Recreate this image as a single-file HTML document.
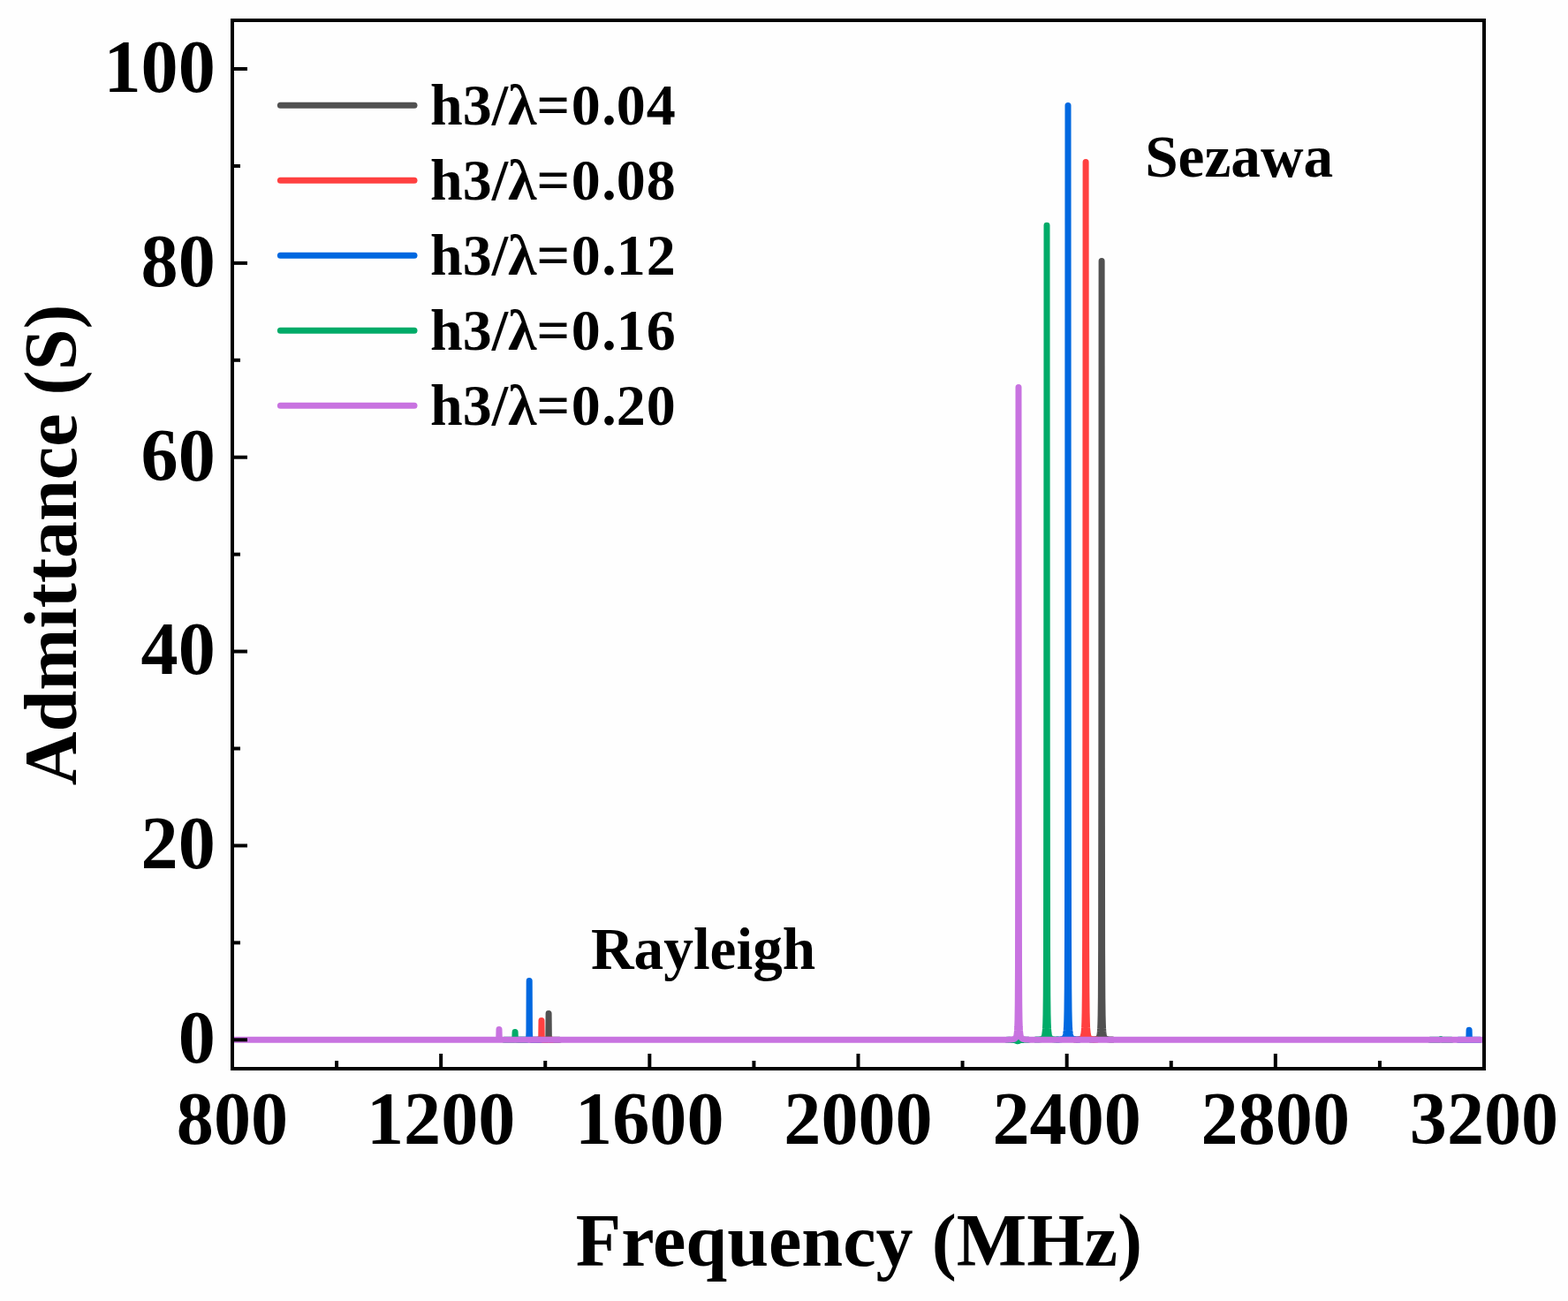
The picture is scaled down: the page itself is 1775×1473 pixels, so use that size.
<!DOCTYPE html>
<html lang="en"><head><meta charset="utf-8"><title>Admittance vs Frequency</title>
<style>
html,body{margin:0;padding:0;background:#fefefe;}
body{width:1775px;height:1473px;overflow:hidden;}
svg{display:block;}
text{font-family:"Liberation Serif","Times New Roman",serif;font-weight:bold;fill:#000;}
.t84{font-size:84.2px;}
.t66{font-size:66px;}
.t67{font-size:67.3px;}
</style></head><body>
<svg width="1775" height="1473" viewBox="0 0 1775 1473">
<rect x="0" y="0" width="1775" height="1473" fill="#fefefe"/>
<defs><clipPath id="pc"><rect x="263" y="23" width="1417" height="1187"/></clipPath></defs>

<g clip-path="url(#pc)" fill="none" stroke-width="7" stroke-linejoin="round" stroke-linecap="round">
<path d="M609.10,1177.30 L609.35,1177.30 L609.60,1177.30 L609.85,1177.30 L610.10,1177.30 L610.35,1177.30 L610.60,1177.30 L610.85,1177.30 L611.10,1177.30 L611.35,1177.30 L611.60,1177.30 L611.85,1177.30 L612.10,1177.30 L612.35,1177.30 L612.60,1177.30 L612.85,1177.30 L613.10,1177.30 L613.35,1177.29 L613.60,1177.29 L613.85,1177.29 L614.10,1177.29 L614.35,1177.29 L614.60,1177.29 L614.85,1177.29 L615.10,1177.29 L615.35,1177.29 L615.60,1177.29 L615.85,1177.29 L616.10,1177.29 L616.35,1177.29 L616.60,1177.29 L616.85,1177.28 L617.10,1177.28 L617.35,1177.28 L617.60,1177.28 L617.85,1177.27 L618.10,1177.27 L618.35,1177.26 L618.60,1177.25 L618.85,1177.24 L619.10,1177.23 L619.35,1177.20 L619.60,1177.17 L619.85,1177.11 L620.10,1177.00 L620.35,1176.78 L620.60,1176.15 L620.85,1173.19 L621.10,1147.50 L621.35,1173.19 L621.60,1176.15 L621.85,1176.78 L622.10,1177.00 L622.35,1177.11 L622.60,1177.17 L622.85,1177.20 L623.10,1177.23 L623.35,1177.24 L623.60,1177.25 L623.85,1177.26 L624.10,1177.27 L624.35,1177.27 L624.60,1177.28 L624.85,1177.28 L625.10,1177.28 L625.35,1177.28 L625.60,1177.29 L625.85,1177.29 L626.10,1177.29 L626.35,1177.29 L626.60,1177.29 L626.85,1177.29 L627.10,1177.29 L627.35,1177.29 L627.60,1177.29 L627.85,1177.29 L628.10,1177.29 L628.35,1177.29 L628.60,1177.29 L628.85,1177.29 L629.10,1177.30 L629.35,1177.30 L629.60,1177.30 L629.85,1177.30 L630.10,1177.30 L630.35,1177.30 L630.60,1177.30 L630.85,1177.30 L631.10,1177.30 L631.35,1177.30 L631.60,1177.30 L631.85,1177.30 L632.10,1177.30 L632.35,1177.30 L632.60,1177.30 L632.85,1177.30 L633.10,1177.30M1235.10,1177.10 L1235.35,1177.09 L1235.60,1177.08 L1235.85,1177.07 L1236.10,1177.06 L1236.35,1177.05 L1236.60,1177.04 L1236.85,1177.03 L1237.10,1177.01 L1237.35,1177.00 L1237.60,1176.98 L1237.85,1176.97 L1238.10,1176.95 L1238.35,1176.93 L1238.60,1176.90 L1238.85,1176.88 L1239.10,1176.85 L1239.35,1176.82 L1239.60,1176.79 L1239.85,1176.76 L1240.10,1176.72 L1240.35,1176.67 L1240.60,1176.62 L1240.85,1176.57 L1241.10,1176.51 L1241.35,1176.44 L1241.60,1176.36 L1241.85,1176.26 L1242.10,1176.16 L1242.35,1176.04 L1242.60,1175.89 L1242.85,1175.72 L1243.10,1175.52 L1243.35,1175.27 L1243.60,1174.97 L1243.85,1174.60 L1244.10,1174.14 L1244.35,1173.54 L1244.60,1172.75 L1244.85,1171.69 L1245.10,1170.22 L1245.35,1168.07 L1245.60,1164.78 L1245.85,1159.39 L1246.10,1149.63 L1246.35,1129.28 L1246.60,1076.14 L1246.85,876.28 L1247.10,295.60 L1247.35,876.28 L1247.60,1076.14 L1247.85,1129.28 L1248.10,1149.63 L1248.35,1159.39 L1248.60,1164.78 L1248.85,1168.07 L1249.10,1170.22 L1249.35,1171.69 L1249.60,1172.75 L1249.85,1173.54 L1250.10,1174.14 L1250.35,1174.60 L1250.60,1174.97 L1250.85,1175.27 L1251.10,1175.52 L1251.35,1175.72 L1251.60,1175.89 L1251.85,1176.04 L1252.10,1176.16 L1252.35,1176.26 L1252.60,1176.36 L1252.85,1176.44 L1253.10,1176.51 L1253.35,1176.57 L1253.60,1176.62 L1253.85,1176.67 L1254.10,1176.72 L1254.35,1176.76 L1254.60,1176.79 L1254.85,1176.82 L1255.10,1176.85 L1255.35,1176.88 L1255.60,1176.90 L1255.85,1176.93 L1256.10,1176.95 L1256.35,1176.97 L1256.60,1176.98 L1256.85,1177.00 L1257.10,1177.01 L1257.35,1177.03 L1257.60,1177.04 L1257.85,1177.05 L1258.10,1177.06 L1258.35,1177.07 L1258.60,1177.08 L1258.85,1177.09 L1259.10,1177.10" stroke="#515151"/>
<path d="M601.00,1177.30 L601.25,1177.30 L601.50,1177.30 L601.75,1177.30 L602.00,1177.30 L602.25,1177.30 L602.50,1177.30 L602.75,1177.30 L603.00,1177.30 L603.25,1177.30 L603.50,1177.30 L603.75,1177.30 L604.00,1177.30 L604.25,1177.30 L604.50,1177.30 L604.75,1177.30 L605.00,1177.29 L605.25,1177.29 L605.50,1177.29 L605.75,1177.29 L606.00,1177.29 L606.25,1177.29 L606.50,1177.29 L606.75,1177.29 L607.00,1177.29 L607.25,1177.29 L607.50,1177.29 L607.75,1177.29 L608.00,1177.29 L608.25,1177.29 L608.50,1177.28 L608.75,1177.28 L609.00,1177.28 L609.25,1177.28 L609.50,1177.27 L609.75,1177.27 L610.00,1177.26 L610.25,1177.26 L610.50,1177.25 L610.75,1177.24 L611.00,1177.22 L611.25,1177.20 L611.50,1177.16 L611.75,1177.10 L612.00,1176.99 L612.25,1176.75 L612.50,1176.11 L612.75,1173.20 L613.00,1155.40 L613.25,1173.20 L613.50,1176.11 L613.75,1176.75 L614.00,1176.99 L614.25,1177.10 L614.50,1177.16 L614.75,1177.20 L615.00,1177.22 L615.25,1177.24 L615.50,1177.25 L615.75,1177.26 L616.00,1177.26 L616.25,1177.27 L616.50,1177.27 L616.75,1177.28 L617.00,1177.28 L617.25,1177.28 L617.50,1177.28 L617.75,1177.29 L618.00,1177.29 L618.25,1177.29 L618.50,1177.29 L618.75,1177.29 L619.00,1177.29 L619.25,1177.29 L619.50,1177.29 L619.75,1177.29 L620.00,1177.29 L620.25,1177.29 L620.50,1177.29 L620.75,1177.29 L621.00,1177.29 L621.25,1177.30 L621.50,1177.30 L621.75,1177.30 L622.00,1177.30 L622.25,1177.30 L622.50,1177.30 L622.75,1177.30 L623.00,1177.30 L623.25,1177.30 L623.50,1177.30 L623.75,1177.30 L624.00,1177.30 L624.25,1177.30 L624.50,1177.30 L624.75,1177.30 L625.00,1177.30M1217.10,1177.08 L1217.35,1177.07 L1217.60,1177.06 L1217.85,1177.05 L1218.10,1177.03 L1218.35,1177.02 L1218.60,1177.01 L1218.85,1176.99 L1219.10,1176.98 L1219.35,1176.96 L1219.60,1176.94 L1219.85,1176.92 L1220.10,1176.90 L1220.35,1176.88 L1220.60,1176.85 L1220.85,1176.83 L1221.10,1176.80 L1221.35,1176.76 L1221.60,1176.73 L1221.85,1176.69 L1222.10,1176.64 L1222.35,1176.59 L1222.60,1176.54 L1222.85,1176.48 L1223.10,1176.41 L1223.35,1176.33 L1223.60,1176.24 L1223.85,1176.13 L1224.10,1176.01 L1224.35,1175.88 L1224.60,1175.71 L1224.85,1175.52 L1225.10,1175.29 L1225.35,1175.02 L1225.60,1174.68 L1225.85,1174.26 L1226.10,1173.74 L1226.35,1173.06 L1226.60,1172.18 L1226.85,1170.98 L1227.10,1169.32 L1227.35,1166.90 L1227.60,1163.19 L1227.85,1157.11 L1228.10,1146.11 L1228.35,1123.18 L1228.60,1063.29 L1228.85,838.04 L1229.10,183.60 L1229.35,838.04 L1229.60,1063.29 L1229.85,1123.18 L1230.10,1146.11 L1230.35,1157.11 L1230.60,1163.19 L1230.85,1166.90 L1231.10,1169.32 L1231.35,1170.98 L1231.60,1172.18 L1231.85,1173.06 L1232.10,1173.74 L1232.35,1174.26 L1232.60,1174.68 L1232.85,1175.02 L1233.10,1175.29 L1233.35,1175.52 L1233.60,1175.71 L1233.85,1175.88 L1234.10,1176.01 L1234.35,1176.13 L1234.60,1176.24 L1234.85,1176.33 L1235.10,1176.41 L1235.35,1176.48 L1235.60,1176.54 L1235.85,1176.59 L1236.10,1176.64 L1236.35,1176.69 L1236.60,1176.73 L1236.85,1176.76 L1237.10,1176.80 L1237.35,1176.83 L1237.60,1176.85 L1237.85,1176.88 L1238.10,1176.90 L1238.35,1176.92 L1238.60,1176.94 L1238.85,1176.96 L1239.10,1176.98 L1239.35,1176.99 L1239.60,1177.01 L1239.85,1177.02 L1240.10,1177.03 L1240.35,1177.05 L1240.60,1177.06 L1240.85,1177.07 L1241.10,1177.08" stroke="#FF4040"/>
<path d="M587.20,1177.30 L587.45,1177.30 L587.70,1177.29 L587.95,1177.29 L588.20,1177.29 L588.45,1177.29 L588.70,1177.29 L588.95,1177.29 L589.20,1177.29 L589.45,1177.29 L589.70,1177.29 L589.95,1177.29 L590.20,1177.29 L590.45,1177.29 L590.70,1177.29 L590.95,1177.29 L591.20,1177.29 L591.45,1177.29 L591.70,1177.29 L591.95,1177.29 L592.20,1177.29 L592.45,1177.29 L592.70,1177.28 L592.95,1177.28 L593.20,1177.28 L593.45,1177.28 L593.70,1177.28 L593.95,1177.28 L594.20,1177.27 L594.45,1177.27 L594.70,1177.27 L594.95,1177.26 L595.20,1177.26 L595.45,1177.25 L595.70,1177.25 L595.95,1177.24 L596.20,1177.23 L596.45,1177.21 L596.70,1177.19 L596.95,1177.17 L597.20,1177.13 L597.45,1177.08 L597.70,1177.00 L597.95,1176.88 L598.20,1176.64 L598.45,1176.13 L598.70,1174.73 L598.95,1168.09 L599.20,1110.50 L599.45,1168.09 L599.70,1174.73 L599.95,1176.13 L600.20,1176.64 L600.45,1176.88 L600.70,1177.00 L600.95,1177.08 L601.20,1177.13 L601.45,1177.17 L601.70,1177.19 L601.95,1177.21 L602.20,1177.23 L602.45,1177.24 L602.70,1177.25 L602.95,1177.25 L603.20,1177.26 L603.45,1177.26 L603.70,1177.27 L603.95,1177.27 L604.20,1177.27 L604.45,1177.28 L604.70,1177.28 L604.95,1177.28 L605.20,1177.28 L605.45,1177.28 L605.70,1177.28 L605.95,1177.29 L606.20,1177.29 L606.45,1177.29 L606.70,1177.29 L606.95,1177.29 L607.20,1177.29 L607.45,1177.29 L607.70,1177.29 L607.95,1177.29 L608.20,1177.29 L608.45,1177.29 L608.70,1177.29 L608.95,1177.29 L609.20,1177.29 L609.45,1177.29 L609.70,1177.29 L609.95,1177.29 L610.20,1177.29 L610.45,1177.29 L610.70,1177.29 L610.95,1177.30 L611.20,1177.30M1197.00,1177.06 L1197.25,1177.05 L1197.50,1177.04 L1197.75,1177.03 L1198.00,1177.02 L1198.25,1177.00 L1198.50,1176.99 L1198.75,1176.97 L1199.00,1176.96 L1199.25,1176.94 L1199.50,1176.92 L1199.75,1176.90 L1200.00,1176.88 L1200.25,1176.85 L1200.50,1176.83 L1200.75,1176.80 L1201.00,1176.76 L1201.25,1176.73 L1201.50,1176.69 L1201.75,1176.65 L1202.00,1176.60 L1202.25,1176.55 L1202.50,1176.49 L1202.75,1176.42 L1203.00,1176.35 L1203.25,1176.26 L1203.50,1176.17 L1203.75,1176.06 L1204.00,1175.93 L1204.25,1175.78 L1204.50,1175.61 L1204.75,1175.41 L1205.00,1175.16 L1205.25,1174.87 L1205.50,1174.51 L1205.75,1174.06 L1206.00,1173.51 L1206.25,1172.79 L1206.50,1171.84 L1206.75,1170.57 L1207.00,1168.80 L1207.25,1166.23 L1207.50,1162.28 L1207.75,1155.81 L1208.00,1144.10 L1208.25,1119.68 L1208.50,1055.93 L1208.75,816.12 L1209.00,119.40 L1209.25,816.12 L1209.50,1055.93 L1209.75,1119.68 L1210.00,1144.10 L1210.25,1155.81 L1210.50,1162.28 L1210.75,1166.23 L1211.00,1168.80 L1211.25,1170.57 L1211.50,1171.84 L1211.75,1172.79 L1212.00,1173.51 L1212.25,1174.06 L1212.50,1174.51 L1212.75,1174.87 L1213.00,1175.16 L1213.25,1175.41 L1213.50,1175.61 L1213.75,1175.78 L1214.00,1175.93 L1214.25,1176.06 L1214.50,1176.17 L1214.75,1176.26 L1215.00,1176.35 L1215.25,1176.42 L1215.50,1176.49 L1215.75,1176.55 L1216.00,1176.60 L1216.25,1176.65 L1216.50,1176.69 L1216.75,1176.73 L1217.00,1176.76 L1217.25,1176.80 L1217.50,1176.83 L1217.75,1176.85 L1218.00,1176.88 L1218.25,1176.90 L1218.50,1176.92 L1218.75,1176.94 L1219.00,1176.96 L1219.25,1176.97 L1219.50,1176.99 L1219.75,1177.00 L1220.00,1177.02 L1220.25,1177.03 L1220.50,1177.04 L1220.75,1177.05 L1221.00,1177.06M1651.10,1177.30 L1651.35,1177.30 L1651.60,1177.30 L1651.85,1177.30 L1652.10,1177.30 L1652.35,1177.30 L1652.60,1177.30 L1652.85,1177.30 L1653.10,1177.30 L1653.35,1177.30 L1653.60,1177.30 L1653.85,1177.30 L1654.10,1177.30 L1654.35,1177.30 L1654.60,1177.30 L1654.85,1177.30 L1655.10,1177.30 L1655.35,1177.30 L1655.60,1177.30 L1655.85,1177.30 L1656.10,1177.30 L1656.35,1177.30 L1656.60,1177.30 L1656.85,1177.30 L1657.10,1177.30 L1657.35,1177.30 L1657.60,1177.30 L1657.85,1177.30 L1658.10,1177.30 L1658.35,1177.29 L1658.60,1177.29 L1658.85,1177.29 L1659.10,1177.29 L1659.35,1177.29 L1659.60,1177.29 L1659.85,1177.29 L1660.10,1177.29 L1660.35,1177.29 L1660.60,1177.28 L1660.85,1177.28 L1661.10,1177.27 L1661.35,1177.26 L1661.60,1177.25 L1661.85,1177.23 L1662.10,1177.19 L1662.35,1177.11 L1662.60,1176.88 L1662.85,1175.78 L1663.10,1166.30 L1663.35,1175.78 L1663.60,1176.88 L1663.85,1177.11 L1664.10,1177.19 L1664.35,1177.23 L1664.60,1177.25 L1664.85,1177.26 L1665.10,1177.27 L1665.35,1177.28 L1665.60,1177.28 L1665.85,1177.29 L1666.10,1177.29 L1666.35,1177.29 L1666.60,1177.29 L1666.85,1177.29 L1667.10,1177.29 L1667.35,1177.29 L1667.60,1177.29 L1667.85,1177.29 L1668.10,1177.30 L1668.35,1177.30 L1668.60,1177.30 L1668.85,1177.30 L1669.10,1177.30 L1669.35,1177.30 L1669.60,1177.30 L1669.85,1177.30 L1670.10,1177.30 L1670.35,1177.30 L1670.60,1177.30 L1670.85,1177.30 L1671.10,1177.30 L1671.35,1177.30 L1671.60,1177.30 L1671.85,1177.30 L1672.10,1177.30 L1672.35,1177.30 L1672.60,1177.30 L1672.85,1177.30 L1673.10,1177.30 L1673.35,1177.30 L1673.60,1177.30 L1673.85,1177.30 L1674.10,1177.30 L1674.35,1177.30 L1674.60,1177.30 L1674.85,1177.30 L1675.10,1177.30" stroke="#0068E0"/>
<path d="M571.10,1177.30 L571.35,1177.30 L571.60,1177.30 L571.85,1177.30 L572.10,1177.30 L572.35,1177.30 L572.60,1177.30 L572.85,1177.30 L573.10,1177.30 L573.35,1177.30 L573.60,1177.30 L573.85,1177.30 L574.10,1177.30 L574.35,1177.30 L574.60,1177.30 L574.85,1177.30 L575.10,1177.30 L575.35,1177.30 L575.60,1177.30 L575.85,1177.30 L576.10,1177.30 L576.35,1177.30 L576.60,1177.30 L576.85,1177.30 L577.10,1177.30 L577.35,1177.30 L577.60,1177.30 L577.85,1177.30 L578.10,1177.30 L578.35,1177.30 L578.60,1177.30 L578.85,1177.30 L579.10,1177.29 L579.35,1177.29 L579.60,1177.29 L579.85,1177.29 L580.10,1177.29 L580.35,1177.29 L580.60,1177.29 L580.85,1177.28 L581.10,1177.28 L581.35,1177.27 L581.60,1177.26 L581.85,1177.24 L582.10,1177.21 L582.35,1177.15 L582.60,1176.96 L582.85,1176.09 L583.10,1168.50 L583.35,1176.09 L583.60,1176.96 L583.85,1177.15 L584.10,1177.21 L584.35,1177.24 L584.60,1177.26 L584.85,1177.27 L585.10,1177.28 L585.35,1177.28 L585.60,1177.29 L585.85,1177.29 L586.10,1177.29 L586.35,1177.29 L586.60,1177.29 L586.85,1177.29 L587.10,1177.29 L587.35,1177.30 L587.60,1177.30 L587.85,1177.30 L588.10,1177.30 L588.35,1177.30 L588.60,1177.30 L588.85,1177.30 L589.10,1177.30 L589.35,1177.30 L589.60,1177.30 L589.85,1177.30 L590.10,1177.30 L590.35,1177.30 L590.60,1177.30 L590.85,1177.30 L591.10,1177.30 L591.35,1177.30 L591.60,1177.30 L591.85,1177.30 L592.10,1177.30 L592.35,1177.30 L592.60,1177.30 L592.85,1177.30 L593.10,1177.30 L593.35,1177.30 L593.60,1177.30 L593.85,1177.30 L594.10,1177.30 L594.35,1177.30 L594.60,1177.30 L594.85,1177.30 L595.10,1177.30M1140.00,1177.33 L1140.25,1177.33 L1140.50,1177.33 L1140.75,1177.33 L1141.00,1177.33 L1141.25,1177.33 L1141.50,1177.34 L1141.75,1177.34 L1142.00,1177.34 L1142.25,1177.34 L1142.50,1177.35 L1142.75,1177.35 L1143.00,1177.35 L1143.25,1177.36 L1143.50,1177.36 L1143.75,1177.37 L1144.00,1177.37 L1144.25,1177.38 L1144.50,1177.38 L1144.75,1177.39 L1145.00,1177.39 L1145.25,1177.40 L1145.50,1177.41 L1145.75,1177.42 L1146.00,1177.43 L1146.25,1177.44 L1146.50,1177.46 L1146.75,1177.47 L1147.00,1177.49 L1147.25,1177.50 L1147.50,1177.53 L1147.75,1177.55 L1148.00,1177.58 L1148.25,1177.61 L1148.50,1177.65 L1148.75,1177.69 L1149.00,1177.74 L1149.25,1177.80 L1149.50,1177.86 L1149.75,1177.94 L1150.00,1178.03 L1150.25,1178.12 L1150.50,1178.23 L1150.75,1178.35 L1151.00,1178.47 L1151.25,1178.59 L1151.50,1178.69 L1151.75,1178.75 L1152.00,1178.77 L1152.25,1178.75 L1152.50,1178.68 L1152.75,1178.59 L1153.00,1178.47 L1153.25,1178.35 L1153.50,1178.23 L1153.75,1178.12 L1154.00,1178.02 L1154.25,1177.93 L1154.50,1177.85 L1154.75,1177.79 L1155.00,1177.73 L1155.25,1177.68 L1155.50,1177.63 L1155.75,1177.60 L1156.00,1177.56 L1156.25,1177.54 L1156.50,1177.51 L1156.75,1177.49 L1157.00,1177.47 L1157.25,1177.45 L1157.50,1177.44 L1157.75,1177.42 L1158.00,1177.41 L1158.25,1177.40 L1158.50,1177.39 L1158.75,1177.38 L1159.00,1177.37 L1159.25,1177.36 L1159.50,1177.35 L1159.75,1177.35 L1160.00,1177.34 L1160.25,1177.33 L1160.50,1177.33 L1160.75,1177.32 L1161.00,1177.32 L1161.25,1177.31 L1161.50,1177.31 L1161.75,1177.31 L1162.00,1177.30 L1162.25,1177.30 L1162.50,1177.29 L1162.75,1177.29 L1163.00,1177.29 L1163.25,1177.28 L1163.50,1177.28 L1163.75,1177.28 L1164.00,1177.27M1173.00,1177.11 L1173.25,1177.10 L1173.50,1177.09 L1173.75,1177.08 L1174.00,1177.07 L1174.25,1177.05 L1174.50,1177.04 L1174.75,1177.03 L1175.00,1177.01 L1175.25,1177.00 L1175.50,1176.98 L1175.75,1176.96 L1176.00,1176.94 L1176.25,1176.92 L1176.50,1176.90 L1176.75,1176.87 L1177.00,1176.84 L1177.25,1176.81 L1177.50,1176.78 L1177.75,1176.74 L1178.00,1176.70 L1178.25,1176.65 L1178.50,1176.60 L1178.75,1176.54 L1179.00,1176.48 L1179.25,1176.41 L1179.50,1176.32 L1179.75,1176.23 L1180.00,1176.11 L1180.25,1175.99 L1180.50,1175.83 L1180.75,1175.66 L1181.00,1175.44 L1181.25,1175.19 L1181.50,1174.87 L1181.75,1174.49 L1182.00,1174.00 L1182.25,1173.37 L1182.50,1172.55 L1182.75,1171.44 L1183.00,1169.90 L1183.25,1167.65 L1183.50,1164.22 L1183.75,1158.58 L1184.00,1148.37 L1184.25,1127.09 L1184.50,1071.52 L1184.75,862.52 L1185.00,255.31 L1185.25,862.52 L1185.50,1071.52 L1185.75,1127.09 L1186.00,1148.37 L1186.25,1158.57 L1186.50,1164.22 L1186.75,1167.65 L1187.00,1169.90 L1187.25,1171.44 L1187.50,1172.55 L1187.75,1173.37 L1188.00,1174.00 L1188.25,1174.49 L1188.50,1174.87 L1188.75,1175.19 L1189.00,1175.44 L1189.25,1175.65 L1189.50,1175.83 L1189.75,1175.98 L1190.00,1176.11 L1190.25,1176.22 L1190.50,1176.32 L1190.75,1176.40 L1191.00,1176.47 L1191.25,1176.54 L1191.50,1176.60 L1191.75,1176.65 L1192.00,1176.69 L1192.25,1176.74 L1192.50,1176.77 L1192.75,1176.81 L1193.00,1176.84 L1193.25,1176.86 L1193.50,1176.89 L1193.75,1176.91 L1194.00,1176.93 L1194.25,1176.95 L1194.50,1176.97 L1194.75,1176.99 L1195.00,1177.00 L1195.25,1177.02 L1195.50,1177.03 L1195.75,1177.04 L1196.00,1177.06 L1196.25,1177.07 L1196.50,1177.08 L1196.75,1177.09 L1197.00,1177.10M1619.00,1177.30 L1619.25,1177.30 L1619.50,1177.30 L1619.75,1177.30 L1620.00,1177.30 L1620.25,1177.30 L1620.50,1177.30 L1620.75,1177.30 L1621.00,1177.30 L1621.25,1177.30 L1621.50,1177.30 L1621.75,1177.30 L1622.00,1177.30 L1622.25,1177.30 L1622.50,1177.30 L1622.75,1177.30 L1623.00,1177.30 L1623.25,1177.30 L1623.50,1177.29 L1623.75,1177.29 L1624.00,1177.29 L1624.25,1177.29 L1624.50,1177.29 L1624.75,1177.29 L1625.00,1177.29 L1625.25,1177.29 L1625.50,1177.29 L1625.75,1177.29 L1626.00,1177.29 L1626.25,1177.29 L1626.50,1177.29 L1626.75,1177.28 L1627.00,1177.28 L1627.25,1177.28 L1627.50,1177.28 L1627.75,1177.27 L1628.00,1177.27 L1628.25,1177.26 L1628.50,1177.26 L1628.75,1177.25 L1629.00,1177.23 L1629.25,1177.22 L1629.50,1177.19 L1629.75,1177.15 L1630.00,1177.09 L1630.25,1176.99 L1630.50,1176.83 L1630.75,1176.62 L1631.00,1176.50 L1631.25,1176.62 L1631.50,1176.83 L1631.75,1176.99 L1632.00,1177.09 L1632.25,1177.15 L1632.50,1177.19 L1632.75,1177.22 L1633.00,1177.23 L1633.25,1177.25 L1633.50,1177.26 L1633.75,1177.26 L1634.00,1177.27 L1634.25,1177.27 L1634.50,1177.28 L1634.75,1177.28 L1635.00,1177.28 L1635.25,1177.28 L1635.50,1177.29 L1635.75,1177.29 L1636.00,1177.29 L1636.25,1177.29 L1636.50,1177.29 L1636.75,1177.29 L1637.00,1177.29 L1637.25,1177.29 L1637.50,1177.29 L1637.75,1177.29 L1638.00,1177.29 L1638.25,1177.29 L1638.50,1177.29 L1638.75,1177.30 L1639.00,1177.30 L1639.25,1177.30 L1639.50,1177.30 L1639.75,1177.30 L1640.00,1177.30 L1640.25,1177.30 L1640.50,1177.30 L1640.75,1177.30 L1641.00,1177.30 L1641.25,1177.30 L1641.50,1177.30 L1641.75,1177.30 L1642.00,1177.30 L1642.25,1177.30 L1642.50,1177.30 L1642.75,1177.30 L1643.00,1177.30" stroke="#00AB68"/>
<path d="M258.00,1177.30 L553.00,1177.30 L553.25,1177.30 L553.50,1177.30 L553.75,1177.30 L554.00,1177.30 L554.25,1177.30 L554.50,1177.30 L554.75,1177.30 L555.00,1177.30 L555.25,1177.30 L555.50,1177.30 L555.75,1177.30 L556.00,1177.30 L556.25,1177.30 L556.50,1177.30 L556.75,1177.30 L557.00,1177.30 L557.25,1177.30 L557.50,1177.30 L557.75,1177.30 L558.00,1177.30 L558.25,1177.30 L558.50,1177.30 L558.75,1177.30 L559.00,1177.30 L559.25,1177.30 L559.50,1177.30 L559.75,1177.30 L560.00,1177.30 L560.25,1177.29 L560.50,1177.29 L560.75,1177.29 L561.00,1177.29 L561.25,1177.29 L561.50,1177.29 L561.75,1177.29 L562.00,1177.29 L562.25,1177.28 L562.50,1177.28 L562.75,1177.28 L563.00,1177.27 L563.25,1177.26 L563.50,1177.25 L563.75,1177.22 L564.00,1177.18 L564.25,1177.09 L564.50,1176.85 L564.75,1175.67 L565.00,1165.50 L565.25,1175.67 L565.50,1176.85 L565.75,1177.09 L566.00,1177.18 L566.25,1177.22 L566.50,1177.25 L566.75,1177.26 L567.00,1177.27 L567.25,1177.28 L567.50,1177.28 L567.75,1177.28 L568.00,1177.29 L568.25,1177.29 L568.50,1177.29 L568.75,1177.29 L569.00,1177.29 L569.25,1177.29 L569.50,1177.29 L569.75,1177.29 L570.00,1177.30 L570.25,1177.30 L570.50,1177.30 L570.75,1177.30 L571.00,1177.30 L571.25,1177.30 L571.50,1177.30 L571.75,1177.30 L572.00,1177.30 L572.25,1177.30 L572.50,1177.30 L572.75,1177.30 L573.00,1177.30 L573.25,1177.30 L573.50,1177.30 L573.75,1177.30 L574.00,1177.30 L574.25,1177.30 L574.50,1177.30 L574.75,1177.30 L575.00,1177.30 L575.25,1177.30 L575.50,1177.30 L575.75,1177.30 L576.00,1177.30 L576.25,1177.30 L576.50,1177.30 L576.75,1177.30 L577.00,1177.30 L1141.00,1177.13 L1141.25,1177.13 L1141.50,1177.12 L1141.75,1177.11 L1142.00,1177.10 L1142.25,1177.09 L1142.50,1177.08 L1142.75,1177.07 L1143.00,1177.06 L1143.25,1177.05 L1143.50,1177.03 L1143.75,1177.02 L1144.00,1177.00 L1144.25,1176.99 L1144.50,1176.97 L1144.75,1176.95 L1145.00,1176.93 L1145.25,1176.90 L1145.50,1176.87 L1145.75,1176.84 L1146.00,1176.81 L1146.25,1176.78 L1146.50,1176.73 L1146.75,1176.69 L1147.00,1176.64 L1147.25,1176.58 L1147.50,1176.51 L1147.75,1176.43 L1148.00,1176.34 L1148.25,1176.24 L1148.50,1176.12 L1148.75,1175.98 L1149.00,1175.81 L1149.25,1175.60 L1149.50,1175.35 L1149.75,1175.04 L1150.00,1174.65 L1150.25,1174.15 L1150.50,1173.49 L1150.75,1172.60 L1151.00,1171.36 L1151.25,1169.57 L1151.50,1166.81 L1151.75,1162.29 L1152.00,1154.12 L1152.25,1137.07 L1152.50,1092.55 L1152.75,925.10 L1153.00,438.60 L1153.25,925.10 L1153.50,1092.55 L1153.75,1137.07 L1154.00,1154.12 L1154.25,1162.29 L1154.50,1166.81 L1154.75,1169.57 L1155.00,1171.36 L1155.25,1172.60 L1155.50,1173.49 L1155.75,1174.15 L1156.00,1174.65 L1156.25,1175.04 L1156.50,1175.35 L1156.75,1175.60 L1157.00,1175.81 L1157.25,1175.98 L1157.50,1176.12 L1157.75,1176.24 L1158.00,1176.34 L1158.25,1176.43 L1158.50,1176.51 L1158.75,1176.58 L1159.00,1176.64 L1159.25,1176.69 L1159.50,1176.73 L1159.75,1176.78 L1160.00,1176.81 L1160.25,1176.84 L1160.50,1176.87 L1160.75,1176.90 L1161.00,1176.93 L1161.25,1176.95 L1161.50,1176.97 L1161.75,1176.99 L1162.00,1177.00 L1162.25,1177.02 L1162.50,1177.03 L1162.75,1177.05 L1163.00,1177.06 L1163.25,1177.07 L1163.50,1177.08 L1163.75,1177.09 L1164.00,1177.10 L1164.25,1177.11 L1164.50,1177.12 L1164.75,1177.13 L1165.00,1177.13 L1685.00,1177.30" stroke="#C873E0"/>
</g>
<g stroke="#000" stroke-width="4" fill="none" stroke-linecap="butt">
<rect x="263" y="23" width="1417" height="1187"/>
<line x1="263" y1="1177.30" x2="280.00" y2="1177.30"/>
<line x1="263" y1="1067.37" x2="272.00" y2="1067.37"/>
<line x1="263" y1="957.44" x2="280.00" y2="957.44"/>
<line x1="263" y1="847.51" x2="272.00" y2="847.51"/>
<line x1="263" y1="737.58" x2="280.00" y2="737.58"/>
<line x1="263" y1="627.65" x2="272.00" y2="627.65"/>
<line x1="263" y1="517.72" x2="280.00" y2="517.72"/>
<line x1="263" y1="407.79" x2="272.00" y2="407.79"/>
<line x1="263" y1="297.86" x2="280.00" y2="297.86"/>
<line x1="263" y1="187.93" x2="272.00" y2="187.93"/>
<line x1="263" y1="78.00" x2="280.00" y2="78.00"/>
<line x1="381.08" y1="1210" x2="381.08" y2="1201.00"/>
<line x1="499.17" y1="1210" x2="499.17" y2="1193.00"/>
<line x1="617.25" y1="1210" x2="617.25" y2="1201.00"/>
<line x1="735.33" y1="1210" x2="735.33" y2="1193.00"/>
<line x1="853.42" y1="1210" x2="853.42" y2="1201.00"/>
<line x1="971.50" y1="1210" x2="971.50" y2="1193.00"/>
<line x1="1089.58" y1="1210" x2="1089.58" y2="1201.00"/>
<line x1="1207.67" y1="1210" x2="1207.67" y2="1193.00"/>
<line x1="1325.75" y1="1210" x2="1325.75" y2="1201.00"/>
<line x1="1443.83" y1="1210" x2="1443.83" y2="1193.00"/>
<line x1="1561.92" y1="1210" x2="1561.92" y2="1201.00"/>
</g>
<text class="t84" x="243.8" y="1202.8" text-anchor="end">0</text>
<text class="t84" x="243.8" y="982.9" text-anchor="end">20</text>
<text class="t84" x="243.8" y="763.1" text-anchor="end">40</text>
<text class="t84" x="243.8" y="544.2" text-anchor="end">60</text>
<text class="t84" x="243.8" y="324.3" text-anchor="end">80</text>
<text class="t84" x="243.8" y="103.5" text-anchor="end">100</text>
<text class="t84" x="263.0" y="1294.5" text-anchor="middle">800</text>
<text class="t84" x="499.2" y="1294.5" text-anchor="middle">1200</text>
<text class="t84" x="735.3" y="1294.5" text-anchor="middle">1600</text>
<text class="t84" x="971.5" y="1294.5" text-anchor="middle">2000</text>
<text class="t84" x="1207.7" y="1294.5" text-anchor="middle">2400</text>
<text class="t84" x="1443.8" y="1294.5" text-anchor="middle">2800</text>
<text class="t84" x="1680.0" y="1294.5" text-anchor="middle">3200</text>
<text class="t84" x="972.4" y="1433" text-anchor="middle">Frequency (MHz)</text>
<text class="t84" transform="translate(85.7,616.9) rotate(-90)" text-anchor="middle">Admittance (S)</text>
<line x1="317.4" y1="119.3" x2="469" y2="119.3" stroke="#515151" stroke-width="7" stroke-linecap="round"/>
<text class="t66" x="487" y="141.0" dx="0 0 0 0 0 1.7 1.5 0 1">h3/λ=0.04</text>
<line x1="317.4" y1="204.3" x2="469" y2="204.3" stroke="#FF4040" stroke-width="7" stroke-linecap="round"/>
<text class="t66" x="487" y="226.0" dx="0 0 0 0 0 1.7 1.5 0 1">h3/λ=0.08</text>
<line x1="317.4" y1="289.3" x2="469" y2="289.3" stroke="#0068E0" stroke-width="7" stroke-linecap="round"/>
<text class="t66" x="487" y="311.0" dx="0 0 0 0 0 1.7 1.5 0 1">h3/λ=0.12</text>
<line x1="317.4" y1="374.3" x2="469" y2="374.3" stroke="#00AB68" stroke-width="7" stroke-linecap="round"/>
<text class="t66" x="487" y="396.0" dx="0 0 0 0 0 1.7 1.5 0 1">h3/λ=0.16</text>
<line x1="317.4" y1="459.3" x2="469" y2="459.3" stroke="#C873E0" stroke-width="7" stroke-linecap="round"/>
<text class="t66" x="487" y="481.0" dx="0 0 0 0 0 1.7 1.5 0 1">h3/λ=0.20</text>
<text class="t67" x="1296.2" y="199.7">Sezawa</text>
<text class="t67" x="669" y="1097">Rayleigh</text>
</svg>
</body></html>
